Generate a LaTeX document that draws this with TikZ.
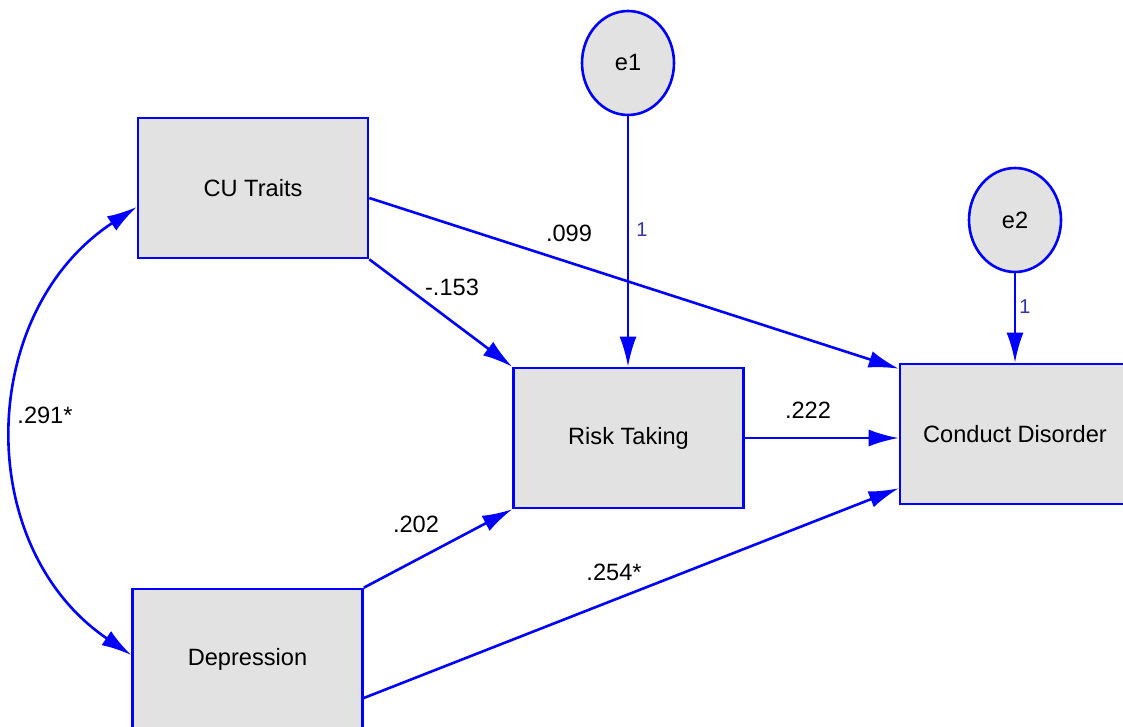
\documentclass[tikz,border=0pt]{standalone}
\usepackage{fontspec}
\setmainfont{Liberation Sans}
\usetikzlibrary{shapes.geometric,arrows.meta,calc}
\definecolor{boxgray}{RGB}{226,226,226}
\definecolor{onecol}{RGB}{50,50,170}
\begin{document}
\begin{tikzpicture}[x=0.5pt,y=-0.5pt,
        obs/.style={rectangle,draw=blue,fill=boxgray,line width=1.3pt,
          minimum width=115pt,minimum height=70pt,font=\fontsize{11.8}{14}\selectfont},
        err/.style={ellipse,draw=blue,fill=boxgray,line width=1.3pt,inner sep=0pt,
          minimum width=46pt,minimum height=52pt,font=\fontsize{11.8}{14}\selectfont},
        reg/.style={draw=blue,line width=1.3pt,-{Latex[length=15pt,width=8.5pt]}},
        cov/.style={draw=blue,line width=1.3pt,{Latex[length=15pt,width=8.5pt]}-{Latex[length=15pt,width=8.5pt]}},
        coef/.style={inner sep=1pt,font=\fontsize{11.8}{14}\selectfont},
        fix/.style={inner sep=1pt,text=onecol,font=\fontsize{10}{12}\selectfont}]
        \useasboundingbox (0,0) rectangle (1123,727);
        \clip (0,0) rectangle (1123,727);
        \node[obs] (cu) at (253,188) {CU Traits};
        \node[obs] (rt) at (628.5,438) {Risk Taking};
        \node[obs] (cd) at (1015,434) {Conduct Disorder};
        \node[obs] (dep) at (247.5,659) {Depression};
        \node[err] (e1) at (628,63) {e1};
        \node[err] (e2) at (1015,220) {e2};
        % paths
        \draw[reg] (cu.south east) -- (rt.north west);
        \draw[reg] ($(cu.east)+(0,10)$) -- ($(cd.north west)+(0,6)$);
        \draw[reg] (rt.east) -- (rt.east -| cd.west);
        \draw[reg] (dep.north east) -- (rt.south west);
        \draw[reg] ($(dep.east)+(0,39)$) -- ($(cd.south west)+(0,-17)$);
        \draw[reg] (e1.south) -- (e1.south |- rt.north);
        \draw[reg] (e2.south) -- (cd.north);
        \draw[cov] ($(dep.west)+(0,-4)$) .. controls +(-159,-108) and +(-160,105) .. ($(cu.west)+(0,19)$);
        % labels
        \node[coef] (c291) at (45,415) {.291*};
        \node[coef] (c153) at (452,287) {-.153};
        \node[coef] (c099) at (569,233) {.099};
        \node[coef] (c222) at (808,410) {.222};
        \node[coef] (c202) at (416,524) {.202};
        \node[coef] (c254) at (614,572) {.254*};
        \node[fix] (f1) at (642,230) {1};
        \node[fix] (f2) at (1025,307) {1};
\end{tikzpicture}
\end{document}
